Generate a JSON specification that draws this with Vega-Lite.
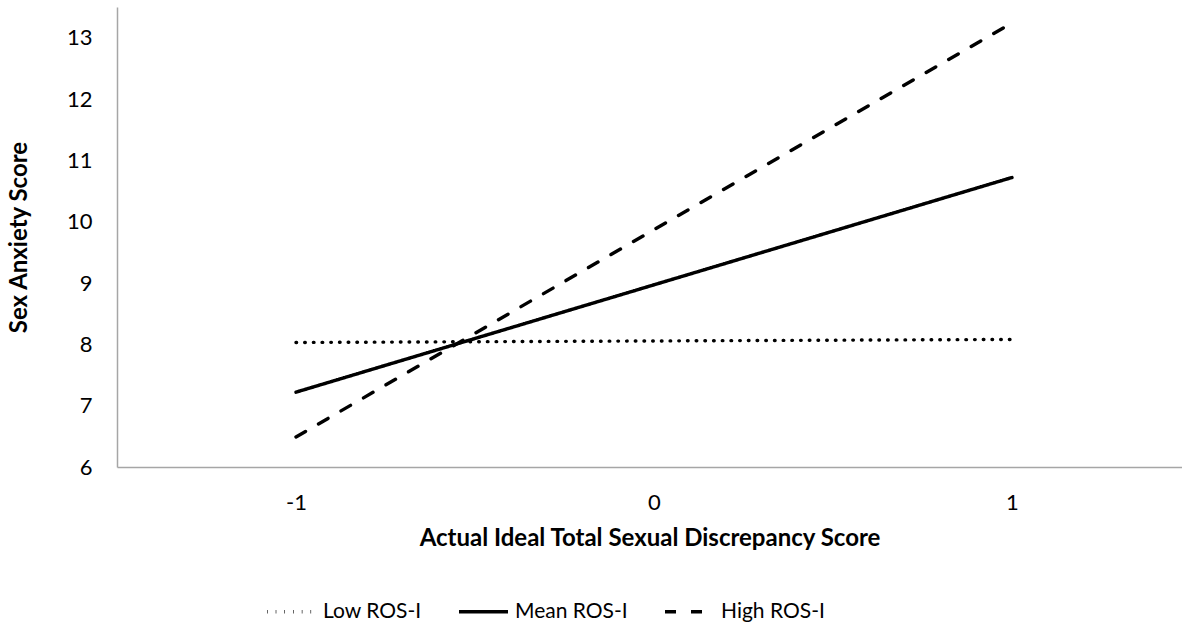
{
  "$schema": "https://vega.github.io/schema/vega-lite/v6.json",
  "autosize": "none",
  "width": 1065,
  "height": 460,
  "padding": {"left": 117, "top": 7, "right": 0, "bottom": 165},
  "background": "white",
  "config": {
    "view": {"stroke": null},
    "font": "Lato",
    "axis": {"labelFont": "Lato", "titleFont": "Lato", "labelColor": "black", "titleColor": "black", "domainColor": "#a6a6a6", "domainWidth": 1.5, "ticks": false, "grid": false, "labelFontSize": 22, "titleFontSize": 24, "titleFontWeight": "bold"}
  },
  "data": {
    "values": [
      {"x": -1, "y": 8.03, "series": "Low ROS-I"},
      {"x": 0, "y": 8.055, "series": "Low ROS-I"},
      {"x": 1, "y": 8.08, "series": "Low ROS-I"},
      {"x": -1, "y": 7.22, "series": "Mean ROS-I"},
      {"x": 0, "y": 8.97, "series": "Mean ROS-I"},
      {"x": 1, "y": 10.72, "series": "Mean ROS-I"},
      {"x": -1, "y": 6.49, "series": "High ROS-I"},
      {"x": 0, "y": 9.87, "series": "High ROS-I"},
      {"x": 1, "y": 13.24, "series": "High ROS-I"}
    ]
  },
  "mark": {"type": "line", "color": "black", "strokeWidth": 3.4, "strokeCap": "round", "clip": false},
  "encoding": {
    "x": {
      "field": "x", "type": "quantitative",
      "scale": {"domain": [-1.5, 1.475], "nice": false, "zero": false},
      "axis": {"values": [-1, 0, 1], "title": "Actual Ideal Total Sexual Discrepancy Score", "labelPadding": 25, "titlePadding": 13, "labelExpr": "'' + datum.value"}
    },
    "y": {
      "field": "y", "type": "quantitative",
      "scale": {"domain": [6, 13.5], "nice": false, "zero": false},
      "axis": {"values": [6, 7, 8, 9, 10, 11, 12, 13], "title": "Sex Anxiety Score", "labelPadding": 25, "titlePadding": 35}
    },
    "detail": {"field": "series"},
    "strokeDash": {
      "field": "series", "type": "nominal",
      "scale": {"domain": ["Low ROS-I", "Mean ROS-I", "High ROS-I"], "range": [[0.6, 8.1], [1, 0], [11, 15]]},
      "legend": {
        "title": null, "orient": "none", "direction": "horizontal",
        "legendX": 148, "legendY": 578,
        "symbolType": "stroke", "symbolSize": 2400, "symbolStrokeWidth": 3.4, "symbolStrokeColor": "black",
        "labelFontSize": 21, "labelFont": "Lato", "labelColor": "black", "columnPadding": 30, "labelOffset": 5
      }
    }
  }
}
